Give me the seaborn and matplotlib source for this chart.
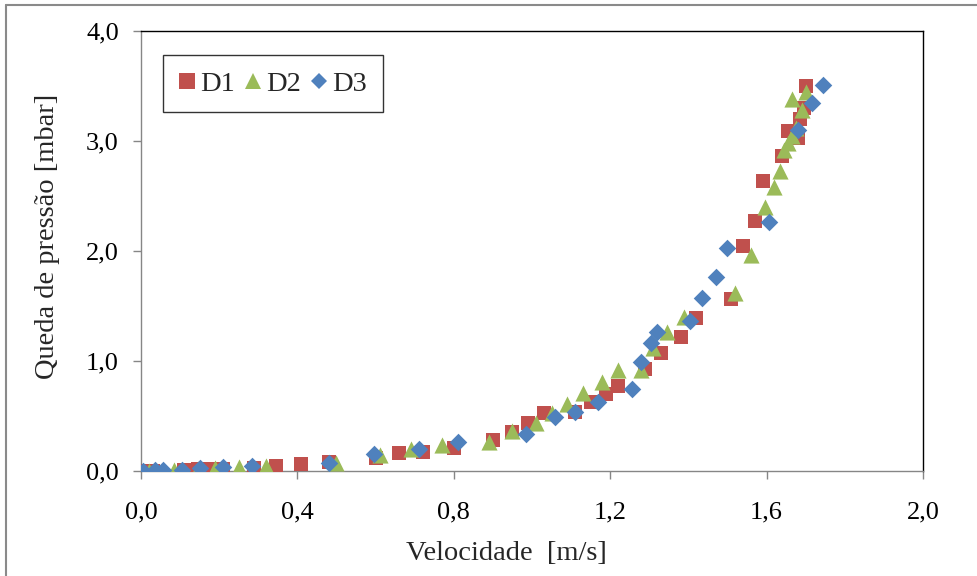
import numpy as np
import pandas as pd
import matplotlib
matplotlib.use("Agg")
import matplotlib.pyplot as plt
import seaborn as sns
from matplotlib.ticker import FuncFormatter
from matplotlib.lines import Line2D

# ---- data ----
d1_x = [0.01, 0.03, 0.11, 0.145, 0.18, 0.21, 0.29, 0.345, 0.41, 0.48, 0.60, 0.66, 0.72, 0.80,
        0.90, 0.95, 0.99, 1.03, 1.11, 1.15, 1.19, 1.22, 1.29, 1.33, 1.38, 1.42, 1.51, 1.54,
        1.57, 1.59, 1.64, 1.655, 1.68, 1.685, 1.695, 1.70]
d1_y = [0.00, 0.00, 0.01, 0.02, 0.02, 0.02, 0.03, 0.05, 0.06, 0.08, 0.12, 0.16, 0.17, 0.21,
        0.28, 0.355, 0.435, 0.53, 0.535, 0.63, 0.70, 0.77, 0.93, 1.07, 1.22, 1.39, 1.56, 2.05,
        2.27, 2.64, 2.86, 3.09, 3.03, 3.20, 3.30, 3.50]

d2_x = [0.02, 0.085, 0.145, 0.19, 0.25, 0.32, 0.50, 0.61, 0.69, 0.77, 0.89, 0.95, 1.01, 1.05,
        1.09, 1.13, 1.18, 1.22, 1.28, 1.31, 1.345, 1.39, 1.52, 1.56, 1.595, 1.62, 1.635, 1.645,
        1.655, 1.665, 1.675, 1.665, 1.69, 1.70]
d2_y = [0.00, 0.01, 0.02, 0.03, 0.04, 0.05, 0.07, 0.15, 0.20, 0.24, 0.26, 0.36, 0.44, 0.53,
        0.61, 0.71, 0.81, 0.92, 0.92, 1.12, 1.26, 1.40, 1.62, 1.96, 2.40, 2.58, 2.73, 2.92,
        2.98, 3.05, 3.12, 3.38, 3.28, 3.45]

d3_x = [0.005, 0.035, 0.055, 0.105, 0.15, 0.21, 0.285, 0.48, 0.595, 0.71, 0.81, 0.985, 1.06,
        1.11, 1.17, 1.255, 1.28, 1.305, 1.32, 1.405, 1.435, 1.47, 1.50, 1.605, 1.68, 1.715, 1.745]
d3_y = [0.00, 0.01, 0.01, 0.01, 0.03, 0.04, 0.045, 0.07, 0.155, 0.20, 0.265, 0.34, 0.49,
        0.54, 0.63, 0.75, 0.99, 1.16, 1.26, 1.36, 1.57, 1.76, 2.03, 2.26, 3.10, 3.35, 3.51]

series_names = ["D1", "D2", "D3"]
x_ticks = [0.0, 0.4, 0.8, 1.2, 1.6, 2.0]
y_ticks = [0.0, 1.0, 2.0, 3.0, 4.0]

df = pd.concat([
    pd.DataFrame({"v": d1_x, "dp": d1_y, "serie": "D1"}),
    pd.DataFrame({"v": d2_x, "dp": d2_y, "serie": "D2"}),
    pd.DataFrame({"v": d3_x, "dp": d3_y, "serie": "D3"}),
], ignore_index=True)

palette = {"D1": "#C0504D", "D2": "#9BBB59", "D3": "#4F81BD"}
markers = {"D1": "s", "D2": "^", "D3": "D"}
sizes = {"D1": 110, "D2": 135, "D3": 80}

sns.set_theme(style="white")
plt.rcParams["font.family"] = ["Liberation Serif", "DejaVu Serif"]

fig = plt.figure(figsize=(9.78, 5.76), dpi=100)
ax = fig.add_axes([141 / 978, 1 - 471 / 576, 782 / 978, 440 / 576])

for name in series_names:
    sub = df[df["serie"] == name]
    sns.scatterplot(data=sub, x="v", y="dp", ax=ax, color=palette[name],
                    marker=markers[name], s=sizes[name], linewidth=0, label=name,
                    legend=False, zorder=3)

ax.set_xlim(0, 2.0)
ax.set_ylim(0, 4.0)
ax.set_xticks(x_ticks)
ax.set_yticks(y_ticks)
fmt = FuncFormatter(lambda v, p: f"{v:.1f}".replace(".", ","))
ax.xaxis.set_major_formatter(fmt)
ax.yaxis.set_major_formatter(fmt)

ax.tick_params(axis="both", which="major", direction="out", length=6, width=1,
               color="#868686", labelsize=19, labelcolor="black")
ax.tick_params(axis="y", pad=10)
ax.tick_params(axis="x", pad=16)
ax.tick_params(left=True, bottom=True)

for side in ["left", "bottom"]:
    ax.spines[side].set_color("#868686")
    ax.spines[side].set_linewidth(1.0)
for side in ["top", "right"]:
    ax.spines[side].set_color("black")
    ax.spines[side].set_linewidth(1.0)
ax.grid(False)

ax.set_xlabel("Velocidade  [m/s]", fontsize=20.5)
ax.set_ylabel("Queda de pressão [mbar]", fontsize=20.5)
ax.xaxis.set_label_coords((506 - 141) / 782, (471 - 553) / 440)
ax.yaxis.set_label_coords((48 - 141) / 782, (471 - 236) / 440)
ax.xaxis.label.set_va("center")
ax.yaxis.label.set_va("center")

handles = [Line2D([], [], linestyle="none", marker=markers[n], color=palette[n],
                  markersize=m, markeredgewidth=0)
           for n, m in zip(series_names, [11, 12, 8.5])]
leg = ax.legend(handles, series_names, loc="upper left",
                bbox_to_anchor=((163 - 141) / 782, (471 - 55) / 440),
                ncol=3, fontsize=20.5, frameon=True, fancybox=False,
                handlelength=0.6, handletextpad=0.15, columnspacing=0.35,
                borderpad=0.55, borderaxespad=0)
leg.get_frame().set_edgecolor("black")
leg.get_frame().set_linewidth(1.0)

# outer chart-area border (left and top visible)
fig.add_artist(Line2D([6 / 978, 6 / 978], [0, 1 - 5 / 576], transform=fig.transFigure,
                      color="#8a8a8a", linewidth=1.5))
fig.add_artist(Line2D([6 / 978, 1], [1 - 5 / 576, 1 - 5 / 576], transform=fig.transFigure,
                      color="#8a8a8a", linewidth=1.5))

fig.savefig("out.png", dpi=100)
